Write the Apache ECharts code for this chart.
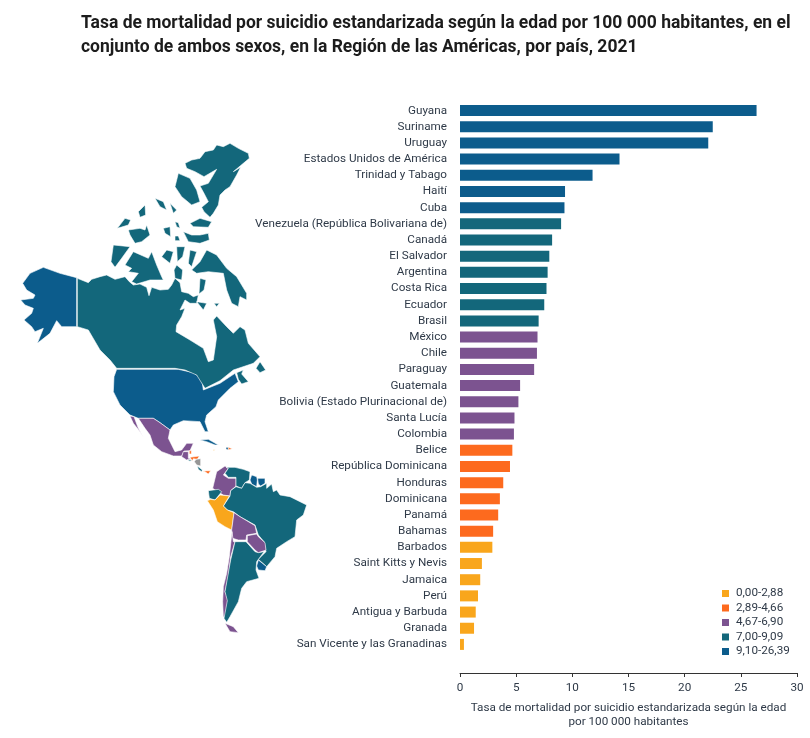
<!DOCTYPE html>
<html><head><meta charset="utf-8">
<style>html,body{margin:0;padding:0;background:#fff}#c{width:810px;height:738px}</style>
<script src="https://cdn.jsdelivr.net/npm/echarts@6/dist/echarts.min.js"></script>
</head><body><div id="c"></div>
<script>
const categories = ["Guyana","Suriname","Uruguay","Estados Unidos de América","Trinidad y Tabago","Haití","Cuba","Venezuela (República Bolivariana de)","Canadá","El Salvador","Argentina","Costa Rica","Ecuador","Brasil","México","Chile","Paraguay","Guatemala","Bolivia (Estado Plurinacional de)","Santa Lucía","Colombia","Belice","República Dominicana","Honduras","Dominicana","Panamá","Bahamas","Barbados","Saint Kitts y Nevis","Jamaica","Perú","Antigua y Barbuda","Granada","San Vicente y las Granadinas"];
const rates = [26.4,22.5,22.1,14.2,11.8,9.35,9.3,9.0,8.2,7.95,7.8,7.7,7.5,7.0,6.9,6.85,6.6,5.35,5.2,4.85,4.8,4.66,4.45,3.85,3.55,3.4,2.95,2.88,1.95,1.8,1.6,1.4,1.25,0.35];
const bandNames = ["0,00-2,88","2,89-4,66","4,67-6,90","7,00-9,09","9,10-26,39"];
const bandTops = [2.88,4.66,6.90,9.09,30];
const bandColors = ["#f9a61c","#fd6a1e","#7c5390","#13677b","#0c5c8c"];
const xTicks = {min:0,max:30,interval:5};
const title = "Tasa de mortalidad por suicidio estandarizada según la edad por 100 000 habitantes, en el\nconjunto de ambos sexos, en la Región de las Américas, por país, 2021";
const xName = "Tasa de mortalidad por suicidio estandarizada según la edad\npor 100 000 habitantes";

// Outlines (crop A: north, crop B: south)
const north = {
 "Estados Unidos de América":[[[130,412],[90,430],[68,460],[80,480],[105,495],[100,505],[62,510],[75,525],[100,535],[95,550],[72,570],[95,590],[105,605],[130,595],[112,640],[150,610],[170,572],[185,590],[230,590],[230,443],[180,430]]],
 "Canadá":[
  [[232,445],[265,458],[275,448],[300,440],[320,435],[345,448],[375,440],[388,455],[400,465],[420,462],[440,472],[447,497],[455,472],[480,480],[505,478],[515,465],[525,445],[540,458],[545,485],[565,490],[580,500],[595,495],[590,520],[570,520],[555,510],[540,540],[555,535],[545,560],[530,585],[528,605],[570,630],[610,655],[625,695],[640,690],[650,620],[640,570],[650,558],[680,590],[700,610],[720,590],[735,600],[745,640],[780,680],[760,700],[700,720],[660,752],[615,775],[590,735],[555,720],[525,715],[350,715],[330,690],[300,660],[265,600],[232,590]],
  [[555,100],[575,90],[600,85],[615,65],[640,60],[650,45],[670,50],[690,40],[715,55],[745,70],[748,85],[730,100],[700,125],[722,112],[710,135],[690,170],[675,180],[660,195],[655,225],[640,250],[630,262],[612,245],[605,232],[625,215],[612,190],[600,168],[625,160],[650,118],[612,140],[585,125],[560,115]],
  [[535,130],[570,145],[590,180],[600,215],[575,225],[545,200],[525,170]],
  [[550,305],[575,315],[600,315],[625,310],[628,330],[600,340],[565,335]],
  [[570,280],[600,265],[635,275],[625,292],[580,290]],
  [[525,318],[535,318],[540,332],[525,332]],
  [[525,275],[535,278],[540,295],[530,290]],
  [[490,295],[510,290],[512,320],[495,310]],
  [[385,300],[420,295],[435,300],[440,285],[450,315],[425,335],[405,340],[390,315]],
  [[352,295],[375,265],[392,270],[385,285]],
  [[465,205],[490,215],[500,240],[480,230]],
  [[510,220],[530,240],[520,250]],
  [[415,245],[435,225],[437,255],[420,262]],
  [[340,345],[390,350],[365,385],[345,412],[333,395]],
  [[400,365],[445,385],[455,365],[470,405],[485,440],[490,450],[450,450],[410,462],[395,455],[415,430],[385,425],[395,415],[375,405]],
  [[500,360],[520,365],[510,400],[485,380]],
  [[530,350],[555,350],[548,380],[532,395]],
  [[530,405],[548,420],[545,450],[525,445],[522,420]],
  [[570,360],[590,365],[575,410],[565,400]],
  [[620,360],[650,375],[680,415],[710,440],[740,490],[740,510],[720,500],[715,530],[695,520],[680,480],[670,430],[625,425],[590,430],[575,420],[600,395]],
  [[600,445],[618,450],[612,480],[597,492]],
  [[590,515],[620,520],[610,540]],
  [[642,520],[658,520],[650,530]],
  [[768,715],[780,695],[797,720],[780,728]]
 ]
};
const south = {
 "Estados Unidos de América":[[[20,28],[205,28],[250,38],[275,55],[280,90],[330,70],[375,40],[385,65],[360,85],[345,100],[325,120],[318,140],[290,165],[285,185],[295,215],[285,215],[270,185],[220,182],[190,195],[180,210],[150,188],[130,175],[85,175],[60,165],[30,135],[10,95],[12,50]]],
 "Canadá":[[[380,38],[400,30],[395,42],[415,65],[395,72],[385,58]]],
 "México":[[[60,168],[72,170],[85,205],[100,232],[90,215],[70,190]],[[85,175],[130,175],[150,188],[180,210],[175,235],[195,275],[215,270],[230,250],[250,250],[240,272],[222,273],[215,288],[190,288],[155,275],[130,255],[120,225],[105,205]]],
 "Guatemala":[[[220,275],[235,275],[235,295],[245,298],[230,300],[215,290]]],
 "Belice":[[[238,272],[244,272],[244,282],[238,282]]],
 "Honduras":[[[240,292],[268,288],[262,298],[250,296],[247,303]]],
 "El Salvador":[[[232,299],[245,300],[240,304]]],
 "Nicaragua":[[[258,298],[272,296],[272,318],[260,315],[253,305]]],
 "Costa Rica":[[[262,318],[277,330],[275,335],[265,328]]],
 "Panamá":[[[278,333],[302,332],[295,342],[285,335]]],
 "Cuba":[[[270,240],[295,238],[325,255],[315,255],[290,245]]],
 "Haití":[[[348,262],[355,262],[355,270],[348,268]]],
 "República Dominicana":[[[355,262],[367,266],[355,270]]],
 "Jamaica":[[[310,269],[316,269],[316,272],[310,272]]],
 "Colombia":[[[320,335],[345,318],[355,325],[340,345],[355,355],[378,355],[378,378],[362,392],[360,408],[340,405],[308,385]]],
 "Venezuela (República Bolivariana de)":[[[348,322],[375,322],[400,328],[420,335],[418,360],[405,368],[395,385],[378,378],[378,352],[355,352],[345,340],[355,325]]],
 "Guyana":[[[425,345],[440,350],[442,360],[440,380],[425,372],[420,360]]],
 "Suriname":[[[443,355],[465,355],[465,370],[452,378],[445,372]]],
 "Brasil":[[[470,385],[485,372],[490,395],[500,390],[510,405],[540,410],[590,435],[580,465],[560,480],[555,530],[530,545],[500,565],[495,590],[470,620],[445,598],[468,575],[462,545],[445,525],[435,495],[390,470],[370,455],[352,450],[340,438],[360,408],[362,392],[378,380],[395,385],[405,368],[420,370],[440,382],[452,380],[470,370]]],
 "Ecuador":[[[295,392],[325,388],[335,395],[315,420],[298,415]]],
 "Perú":[[[292,422],[302,418],[315,420],[330,405],[358,408],[340,438],[352,450],[372,458],[365,510],[345,500],[322,485],[310,450]]],
 "Bolivia (Estado Plurinacional de)":[[[372,458],[390,470],[435,497],[440,520],[410,525],[408,540],[385,540],[368,535],[365,510]]],
 "Paraguay":[[[412,527],[440,522],[445,530],[465,548],[468,570],[445,578],[435,570],[412,545]]],
 "Uruguay":[[[445,600],[470,620],[465,632],[445,630],[440,618]]],
 "Chile":[[[366,515],[370,545],[375,545],[362,590],[355,650],[345,695],[355,720],[345,770],[340,770],[338,725],[340,680],[350,640],[358,590]],[[345,790],[370,800],[385,818],[360,815]]],
 "Argentina":[[[375,545],[408,545],[435,575],[445,578],[462,575],[440,605],[438,630],[447,655],[410,665],[395,685],[385,725],[360,770],[350,787],[342,775],[352,722],[345,695],[362,600]]]
};
const cropA = ([x,y]) => [x/3, 130+y/3];
const cropB = ([x,y]) => [110+x/3, 360+y/3];
const polys = {};
for (const k in north) polys[k] = (polys[k]||[]).concat(north[k].map(r=>[r.map(cropA)]));
for (const k in south) polys[k] = (polys[k]||[]).concat(south[k].map(r=>[r.map(cropB)]));
const features = Object.keys(polys).map(n=>{
  polys[n].forEach(p=>p[0].push(p[0][0].slice()));
  return {type:"Feature",properties:{name:n},geometry:{type:"MultiPolygon",coordinates:polys[n]}};
});
echarts.registerMap("americas",{type:"FeatureCollection",features});
const all = features.flatMap(f=>f.geometry.coordinates.flatMap(p=>p[0]));
const xs = all.map(p=>p[0]), ys = all.map(p=>p[1]);
const bx0=Math.min(...xs), bx1=Math.max(...xs), by0=Math.min(...ys), by1=Math.max(...ys);

const bandOf = v => bandTops.findIndex(t=>v<=t);
const barSeries = bandNames.map((name,b)=>({
  name, type:"bar", stack:"t", barWidth:11, silent:true,
  itemStyle:{color:bandColors[b]},
  data:rates.map(v=>bandOf(v)===b?v:null)
}));
const mapSeries = {
  type:"map", map:"americas", silent:true, roam:false, showLegendSymbol:false,
  projection:{project:p=>p,unproject:p=>p},
  left:bx0, top:by0, width:bx1-bx0, height:by1-by0,
  label:{show:false},
  itemStyle:{areaColor:"#969696",borderColor:"#fff",borderWidth:0.6},
  data:categories.map((name,i)=>({name,value:rates[i],itemStyle:{areaColor:bandColors[bandOf(rates[i])]}}))
};
const ink = "#2f3a48";
const fs = 11.7;
const chart = echarts.init(document.getElementById("c"),null,{renderer:"canvas"});
chart.setOption({
  animation:false, backgroundColor:"#fff",
  textStyle:{fontFamily:"Roboto"},
  title:{text:title,left:76,top:6,textStyle:{fontFamily:"Roboto",fontSize:17.5,fontWeight:"bold",color:"#1c1c1c",lineHeight:24.5}},
  legend:{data:bandNames,orient:"vertical",left:717,top:582.5,itemWidth:7,itemHeight:7,itemGap:2.5,icon:"rect",
    textStyle:{fontFamily:"Roboto",fontSize:fs,color:ink,padding:[0,0,0,2]},selectedMode:false},
  grid:{left:460,right:13,top:102.5,height:550,containLabel:false},
  xAxis:{type:"value",min:xTicks.min,max:xTicks.max,interval:xTicks.interval,offset:20.5,
    axisLine:{show:true,lineStyle:{color:"#333",width:1}},axisTick:{show:true,length:4,lineStyle:{color:"#333"}},
    axisLabel:{fontFamily:"Roboto",fontSize:fs,color:ink,margin:9},splitLine:{show:false},
    name:xName,nameLocation:"middle",nameGap:28,nameTextStyle:{fontFamily:"Roboto",fontSize:fs,color:ink,lineHeight:14}},
  yAxis:{type:"category",data:categories,inverse:true,axisLine:{show:false},axisTick:{show:false},
    axisLabel:{fontFamily:"Roboto",fontSize:fs,color:ink,margin:13,interval:0}},
  series:[...barSeries,mapSeries]
});
</script></body></html>
